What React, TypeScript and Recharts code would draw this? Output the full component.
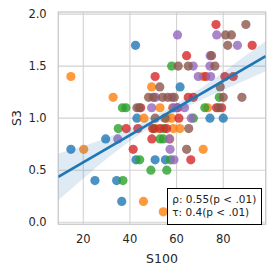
import { ComposedChart, Scatter, Area, Line, XAxis, YAxis, CartesianGrid, ReferenceArea } from "recharts";

// [S100, S3] pairs, one list per hue
const blue: [number, number][] = [
    [42.4, 1.7], [61.5, 1.3], [43, 1.0], [74.3, 1.0], [80, 1.0], [29.6, 0.8], [14.7, 0.7],
    [42.6, 0.6], [50.8, 0.6], [55.2, 0.6], [25, 0.4], [34.3, 0.4], [36.5, 0.2],
];
const orange: [number, number][] = [
    [14.7, 1.4], [32.8, 1.2], [49.3, 1.3], [71.4, 1.4], [52.9, 1.1], [58.3, 1.1], [73.3, 1.1],
    [46, 1.0], [55.8, 1.0], [57.9, 1.0], [51, 0.9], [58.6, 0.9], [61.4, 0.9], [57.1, 0.8],
    [20.2, 0.7], [71.4, 0.7], [45.8, 0.2], [54.3, 0.1],
];
const green: [number, number][] = [
    [57.9, 1.5], [78.3, 1.2], [36.8, 1.1], [38.3, 1.1], [72.1, 1.1], [67.2, 1.0], [35, 0.9],
    [50.3, 0.9], [54.6, 0.9], [52.9, 0.8], [54.3, 0.8], [44.2, 0.6], [57.4, 0.6], [49, 0.5],
    [55.8, 0.5], [37, 0.4],
];
const red: [number, number][] = [
    [76.9, 1.9], [92.4, 1.7], [64.3, 1.6], [50.8, 1.4], [72.5, 1.4], [80.7, 1.4], [84.3, 1.4],
    [65, 1.2], [67.2, 1.2], [44.6, 1.1], [60.5, 1.1], [77.1, 1.1], [79.3, 1.1], [61, 1.0],
    [38.4, 0.9], [43.4, 0.9], [49.7, 0.9], [52.9, 0.9], [55.7, 0.9], [49.4, 0.8], [41.4, 0.7],
    [66.1, 0.6],
];
const purple: [number, number][] = [
    [60.4, 1.8], [77.2, 1.8], [86.1, 1.7], [74.4, 1.6], [67.1, 1.5], [74.3, 1.5], [69.3, 1.4],
    [74.6, 1.4], [51, 1.2], [57.9, 1.2], [49.3, 1.1], [58.6, 1.1], [60, 1.1], [63.4, 1.1],
    [66.3, 1.0], [34.8, 0.8], [56.9, 0.8], [57.2, 0.7], [58.9, 0.6],
];
const brown: [number, number][] = [
    [89.7, 1.9], [81, 1.8], [83.5, 1.8], [81.9, 1.7], [75, 1.6], [60.7, 1.5], [65, 1.5],
    [76.4, 1.5], [52.8, 1.3], [78.7, 1.3], [48, 1.2], [50, 1.2], [54, 1.2], [56.2, 1.2],
    [59, 1.2], [80, 1.2], [88, 1.2], [43, 1.1], [44, 1.1], [78, 1.1], [50.8, 1.0], [55, 1.0],
    [65.2, 0.9], [64.3, 0.7],
];

// regression fit and its confidence band
const fitX = [9.3, 98.2];
const fitY = [0.435, 1.596];
const bandX = [9.3, 20, 30, 40, 50, 60, 70, 80, 90, 98.2];
const bandLow = [0.21, 0.42, 0.61, 0.78, 0.93, 1.06, 1.17, 1.27, 1.37, 1.45];
const bandHigh = [0.66, 0.73, 0.81, 0.9, 1.01, 1.14, 1.28, 1.44, 1.61, 1.74];

const xTicks = [20, 40, 60, 80];
const yTicks = [0, 0.5, 1, 1.5, 2];
const xDomain: [number, number] = [9.3, 98.2];
const yDomain: [number, number] = [-0.02, 2.02];

const groups = [
    { name: "blue", points: blue, color: "#1f77b4" },
    { name: "orange", points: orange, color: "#ff7f0e" },
    { name: "green", points: green, color: "#2ca02c" },
    { name: "red", points: red, color: "#d62728" },
    { name: "purple", points: purple, color: "#9467bd" },
    { name: "brown", points: brown, color: "#8c564b" },
];

const bandData = bandX.map((x, i) => ({ x, band: [bandLow[i], bandHigh[i]] }));
const fitData = fitX.map((x, i) => ({ x, fit: fitY[i] }));

const tickStyle = { fill: "#262626", fontSize: 11.5, fontFamily: "DejaVu Sans" };

function Dot(props: any) {
    const { cx, cy, fill } = props;
    if (cx == null || cy == null) return null;
    return <circle cx={cx} cy={cy} r={4.6} fill={fill} fillOpacity={0.8} />;
}

export default function App() {
    return (
        <div style={{ position: "absolute", left: 0, top: 0, width: 275, height: 275, background: "#fff", fontFamily: "DejaVu Sans" }}>
            <ComposedChart width={275} height={275} data={bandData} margin={{ top: 12, right: 9.3, bottom: 0, left: 0 }}>
                <CartesianGrid stroke="#d2d2d2" strokeWidth={1.1} />
                <ReferenceArea x1={xDomain[0]} x2={xDomain[1]} y1={yDomain[0]} y2={yDomain[1]} fill="none" stroke="#cccccc" strokeWidth={1.2} ifOverflow="visible" />
                <XAxis
                    type="number"
                    dataKey="x"
                    domain={xDomain}
                    ticks={xTicks}
                    allowDataOverflow
                    height={50.7}
                    tickLine={false}
                    axisLine={false}
                    tickSize={0}
                    tickMargin={11}
                    tick={tickStyle}
                    label={{ value: "S100", position: "insideBottom", offset: 12.5, fill: "#262626", fontSize: 12.5, fontFamily: "DejaVu Sans" }}
                />
                <YAxis
                    type="number"
                    domain={yDomain}
                    ticks={yTicks}
                    allowDataOverflow
                    width={58.3}
                    tickLine={false}
                    axisLine={false}
                    tickSize={0}
                    tickMargin={11.6}
                    tick={tickStyle}
                    tickFormatter={(v) => Number(v).toFixed(1)}
                    label={{
                        content: () => (
                            <text x={16} y={118} transform="rotate(-90 16 118)" textAnchor="middle" dominantBaseline="central" fill="#262626" fontSize={12.5} fontFamily="DejaVu Sans">
                                S3
                            </text>
                        ),
                    }}
                />
                {groups.map((g) => (
                    <Scatter
                        key={g.name}
                        data={g.points.map(([x, y]) => ({ x, y }))}
                        dataKey="y"
                        fill={g.color}
                        shape={<Dot />}
                        isAnimationActive={false}
                    />
                ))}
                <Area dataKey="band" type="linear" stroke="none" fill="#1f77b4" fillOpacity={0.15} isAnimationActive={false} zIndex={700} />
                <Line data={fitData} dataKey="fit" type="linear" stroke="#1f77b4" strokeWidth={2.7} dot={false} activeDot={false} isAnimationActive={false} zIndex={800} />
            </ComposedChart>
            <div
                style={{
                    position: "absolute",
                    left: 166.7,
                    top: 188.3,
                    width: 95.6,
                    height: 36.7,
                    boxSizing: "border-box",
                    border: "1px solid #000",
                    background: "#fff",
                    padding: "3.8px 0 0 4.6px",
                    fontSize: 10.5,
                    lineHeight: "12.4px",
                    color: "#222",
                    whiteSpace: "nowrap",
                }}
            >
                <div>ρ: 0.55(p &lt; .01)</div>
                <div>τ: 0.4(p &lt; .01)</div>
            </div>
        </div>
    );
}
